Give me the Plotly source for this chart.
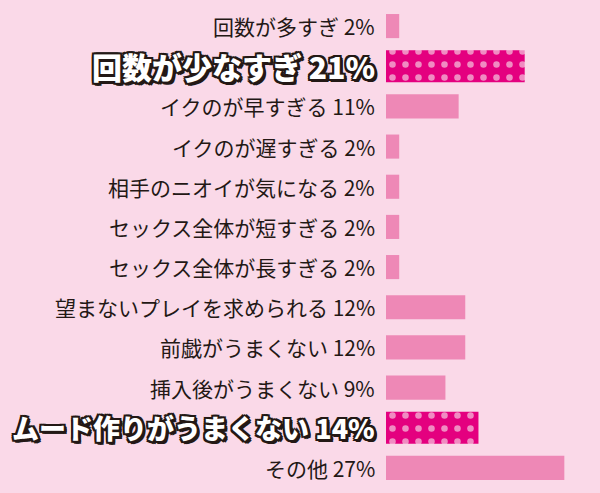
import plotly.graph_objects as go

categories = [
    "回数が多すぎ", "回数が少なすぎ", "イクのが早すぎる", "イクのが遅すぎる",
    "相手のニオイが気になる", "セックス全体が短すぎる", "セックス全体が長すぎる",
    "望まないプレイを求められる", "前戯がうまくない", "挿入後がうまくない",
    "ムード作りがうまくない", "その他",
]
values = [2, 21, 11, 2, 2, 2, 2, 12, 12, 9, 14, 27]
highlight = [False, True, False, False, False, False, False, False, False, False, True, False]
highlight_size = {"回数が少なすぎ": 30, "ムード作りがうまくない": 27}

BG = "#FAD9E8"
BAR = "#EE88B6"
HOT = "#E4007F"
DOT = "#F08CC2"
INK = "#231815"

plain_vals = [None if h else v for v, h in zip(values, highlight)]
hot_vals = [v if h else None for v, h in zip(values, highlight)]

fig = go.Figure()
fig.add_trace(go.Bar(
    y=categories, x=plain_vals, orientation="h", width=0.6,
    marker=dict(color=BAR, line=dict(width=0)), hoverinfo="skip",
))
fig.add_trace(go.Bar(
    y=categories, x=hot_vals, orientation="h", width=0.8,
    marker=dict(color=HOT, line=dict(width=0),
                pattern=dict(shape=".", fgcolor=DOT, bgcolor=HOT, fgopacity=1,
                             size=13, solidity=0.2, fillmode="replace")),
    hoverinfo="skip",
))

outline = ", ".join([
    f"2px 0 0 {INK}", f"-2px 0 0 {INK}", f"0 2px 0 {INK}", f"0 -2px 0 {INK}",
    f"2px 2px 0 {INK}", f"-2px -2px 0 {INK}", f"2px -2px 0 {INK}", f"-2px 2px 0 {INK}",
    f"3px 3px 0 {INK}", f"1px 3px 0 {INK}", f"3px 1px 0 {INK}",
])

annotations = []
for c, v, h in zip(categories, values, highlight):
    if h:
        font = dict(family="Noto Sans CJK JP", size=highlight_size[c], color="white",
                    weight=900, shadow=outline)
    else:
        font = dict(family="Noto Sans CJK JP", size=21, color=INK)
    annotations.append(dict(
        x=0, y=c, xref="x", yref="y", text=f"{c} {v}%", showarrow=False,
        xanchor="right", yanchor="middle", xshift=-9, font=font,
    ))

fig.update_layout(
    width=600, height=493,
    paper_bgcolor=BG, plot_bgcolor=BG,
    margin=dict(l=386, r=0, t=6, b=5),
    xaxis=dict(range=[0, 32.4], visible=False, fixedrange=True),
    yaxis=dict(autorange="reversed", visible=False, fixedrange=True),
    barmode="overlay",
    showlegend=False,
    annotations=annotations,
)

fig.write_html(
    "out.html",
    config={"displayModeBar": False},
    post_script="document.body.style.margin='0';document.body.style.background='#FAD9E8';",
)
